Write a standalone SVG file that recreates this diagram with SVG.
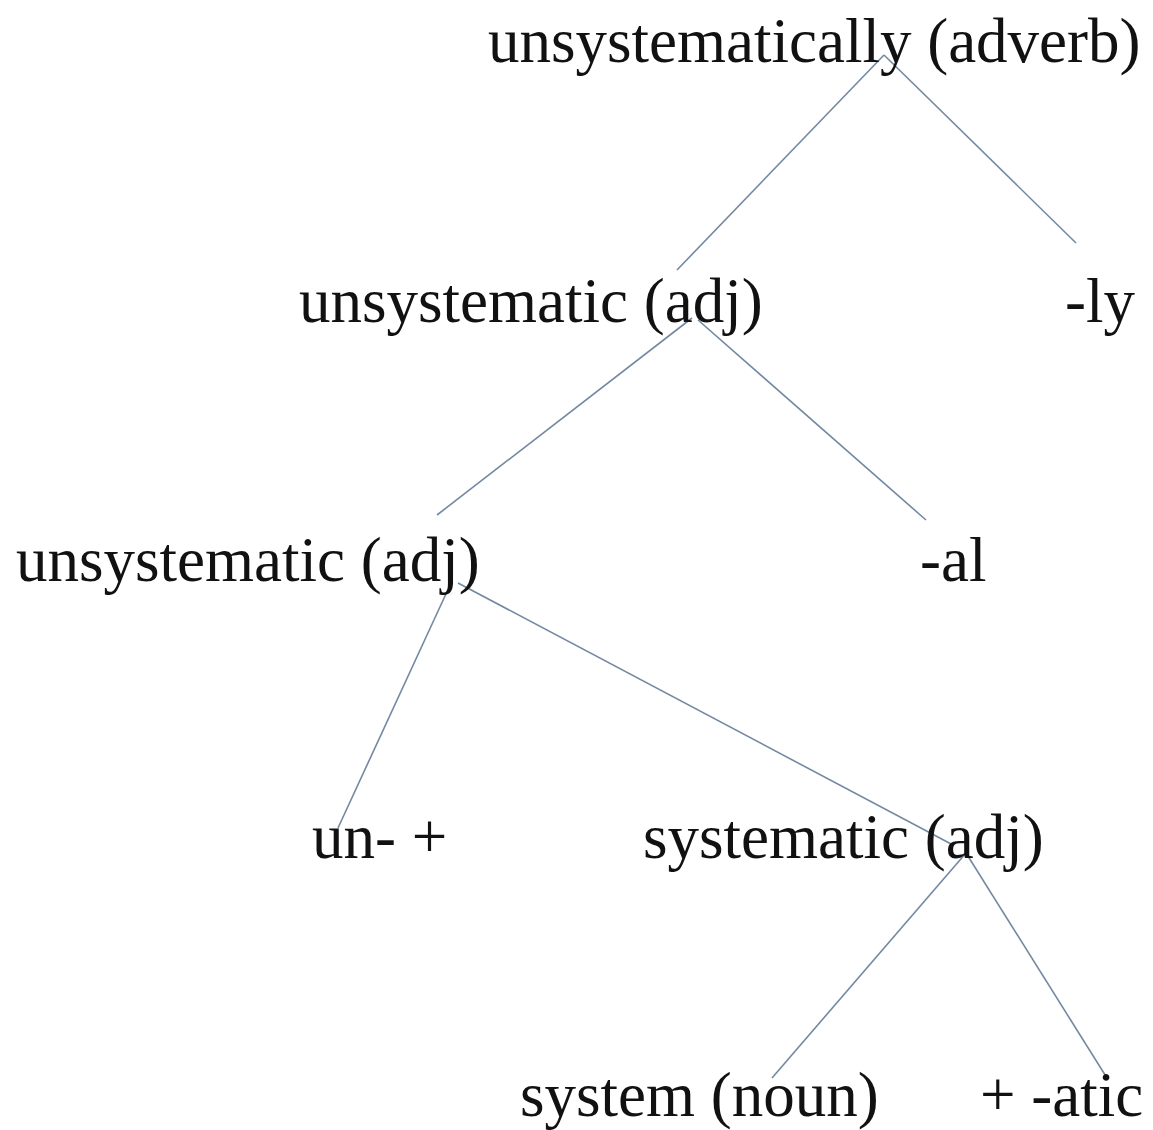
<svg xmlns="http://www.w3.org/2000/svg" width="1153" height="1130" viewBox="0 0 1153 1130">
<style>
text{font-family:"Liberation Serif","Times New Roman",serif;font-size:63px;fill:#111}
.e{stroke:#7389a2;stroke-width:1.6;fill:none}
</style>
<rect width="1153" height="1130" fill="#fff"/>
<g id="connectors">
<line class="e" x1="884" y1="55" x2="677" y2="270"/>
<line class="e" x1="884" y1="55" x2="1076" y2="243"/>
<line class="e" x1="692" y1="318" x2="437" y2="515"/>
<line class="e" x1="698" y1="320" x2="926" y2="520"/>
<line class="e" x1="451" y1="583" x2="338" y2="828"/>
<line class="e" x1="458" y1="583" x2="953" y2="845"/>
<line class="e" x1="966" y1="853" x2="772" y2="1078"/>
<line class="e" x1="966" y1="853" x2="1107" y2="1078"/>
</g>
<g id="n1"><text x="488" y="62">unsystematically (adverb)</text></g>
<g id="n2"><text x="299" y="322">unsystematic (adj)</text></g>
<g id="n3"><text x="1065" y="322">-ly</text></g>
<g id="n4"><text x="16" y="581">unsystematic (adj)</text></g>
<g id="n5"><text x="920" y="581">-al</text></g>
<g id="n6"><text x="312" y="858">un- +</text></g>
<g id="n7"><text x="643" y="858">systematic (adj)</text></g>
<g id="n8"><text x="520" y="1116">system (noun)</text></g>
<g id="n9"><text x="980" y="1116">+ -atic</text></g>
</svg>
